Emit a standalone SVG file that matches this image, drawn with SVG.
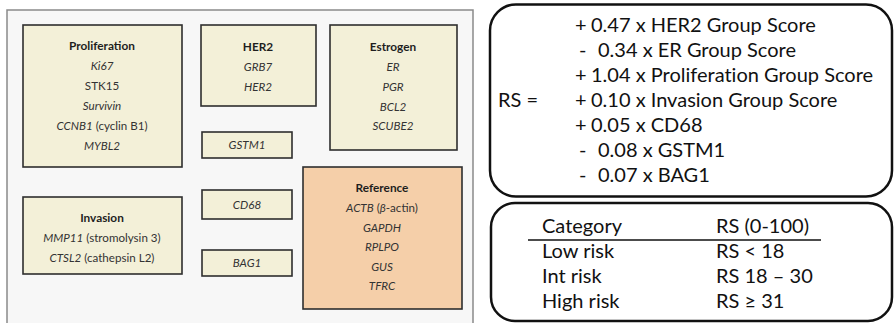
<svg xmlns="http://www.w3.org/2000/svg" width="895" height="323" viewBox="0 0 895 323">
  <style>
    .panel { fill: #f7f7f7; stroke: #8a8a8a; stroke-width: 1.5; }
    .box { fill: #f3f0d8; stroke: #2e2e2e; stroke-width: 1.6; }
    .ref { fill: #f5cfa9; stroke: #2e2e2e; stroke-width: 1.6; }
    .t { font-family: Lato, "Open Sans", sans-serif; font-size: 11.6px; fill: #333; text-anchor: middle; }
    .title { font-weight: bold; fill: #1e1e1e; font-size: 11.8px; }
    .gene { font-style: italic; }
    .frame { fill: #ffffff; stroke: #111; stroke-width: 2.5; }
    .f { font-family: Lato, Calibri, "Open Sans", sans-serif; font-size: 20px; fill: #111; font-variant-ligatures: none; }
  </style>

  <!-- gene panel background -->
  <path class="panel" d="M7,330 V10 H473 V330"/>

  <g id="proliferation">
    <rect class="box" x="23" y="25" width="159" height="142"/>
    <text class="t title" x="102" y="50">Proliferation</text>
    <text class="t gene" x="102" y="70">Ki67</text>
    <text class="t" x="102" y="90">STK15</text>
    <text class="t gene" x="102" y="110">Survivin</text>
    <text class="t" x="102" y="130"><tspan class="gene">CCNB1</tspan> (cyclin B1)</text>
    <text class="t gene" x="102" y="150">MYBL2</text>
  </g>

  <g id="her2">
    <rect class="box" x="201" y="25" width="115" height="81"/>
    <text class="t title" x="258" y="51">HER2</text>
    <text class="t gene" x="258" y="71">GRB7</text>
    <text class="t gene" x="258" y="91">HER2</text>
  </g>

  <g id="estrogen">
    <rect class="box" x="330" y="25" width="127" height="125"/>
    <text class="t title" x="393" y="51">Estrogen</text>
    <text class="t gene" x="393" y="71">ER</text>
    <text class="t gene" x="393" y="91">PGR</text>
    <text class="t gene" x="393" y="111">BCL2</text>
    <text class="t gene" x="393" y="130">SCUBE2</text>
  </g>

  <g id="gstm1">
    <rect class="box" x="202" y="132" width="90" height="26"/>
    <text class="t gene" x="247" y="149">GSTM1</text>
  </g>

  <g id="cd68">
    <rect class="box" x="202" y="190" width="90" height="29"/>
    <text class="t gene" x="247" y="209">CD68</text>
  </g>

  <g id="bag1">
    <rect class="box" x="202" y="250" width="90" height="26"/>
    <text class="t gene" x="247" y="267">BAG1</text>
  </g>

  <g id="invasion">
    <rect class="box" x="23" y="197" width="159" height="77"/>
    <text class="t title" x="102" y="222">Invasion</text>
    <text class="t" x="102" y="242"><tspan class="gene">MMP11</tspan> (stromolysin 3)</text>
    <text class="t" x="102" y="262"><tspan class="gene">CTSL2</tspan> (cathepsin L2)</text>
  </g>

  <g id="reference">
    <rect class="ref" x="303" y="167" width="159" height="142"/>
    <text class="t title" x="382" y="192">Reference</text>
    <text class="t" x="382" y="212"><tspan class="gene">ACTB</tspan> (<tspan class="gene">β</tspan>-actin)</text>
    <text class="t gene" x="382" y="232">GAPDH</text>
    <text class="t gene" x="382" y="251">RPLPO</text>
    <text class="t gene" x="382" y="271">GUS</text>
    <text class="t gene" x="382" y="290">TFRC</text>
  </g>

  <!-- recurrence score formula -->
  <g id="formula">
    <rect class="frame" x="490" y="4.5" width="402" height="192" rx="26"/>
    <text class="f" x="498" y="107">RS =</text>
    <text class="f" y="32"><tspan x="575">+</tspan><tspan x="591">0.47 x HER2 Group Score</tspan></text>
    <text class="f" y="57"><tspan x="579">-</tspan><tspan x="598">0.34 x ER Group Score</tspan></text>
    <text class="f" y="82"><tspan x="575">+</tspan><tspan x="591">1.04 x Proliferation Group Score</tspan></text>
    <text class="f" y="107"><tspan x="575">+</tspan><tspan x="591">0.10 x Invasion Group Score</tspan></text>
    <text class="f" y="132"><tspan x="575">+</tspan><tspan x="591">0.05 x CD68</tspan></text>
    <text class="f" y="157"><tspan x="579">-</tspan><tspan x="598">0.08 x GSTM1</tspan></text>
    <text class="f" y="182"><tspan x="579">-</tspan><tspan x="598">0.07 x BAG1</tspan></text>
  </g>

  <!-- risk categories -->
  <g id="categories">
    <rect class="frame" x="491" y="203" width="401" height="118" rx="24"/>
    <text class="f" x="542" y="233">Category</text>
    <text class="f" x="716" y="233">RS (0-100)</text>
    <line x1="528" y1="240" x2="821" y2="240" stroke="#111" stroke-width="1.5"/>
    <text class="f" x="542" y="258">Low risk</text>
    <text class="f" x="716" y="258">RS &lt; 18</text>
    <text class="f" x="542" y="283">Int risk</text>
    <text class="f" x="716" y="283">RS 18 – 30</text>
    <text class="f" x="542" y="308">High risk</text>
    <text class="f" x="716" y="308">RS ≥ 31</text>
  </g>

  <g id="connectors"/>
</svg>
